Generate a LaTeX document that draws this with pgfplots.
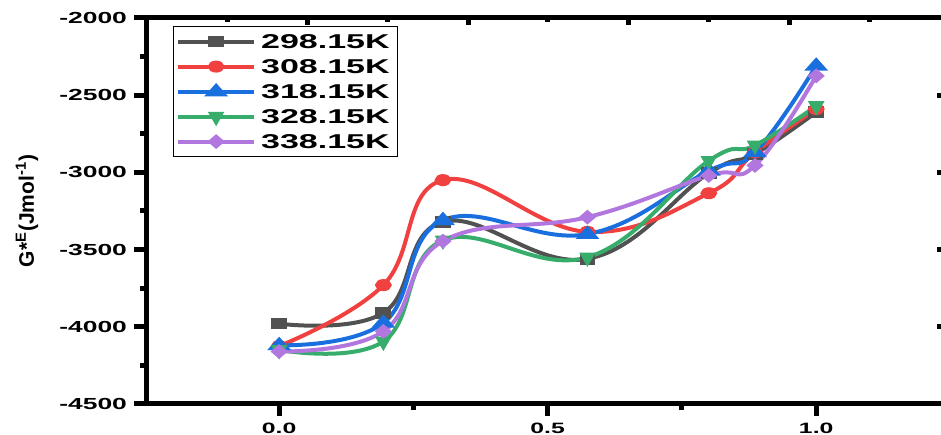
\documentclass[border=0pt]{standalone}
\usepackage{fontspec}
\setmainfont{Liberation Sans}
\usepackage{graphicx}
\usepackage{pgfplots}
\pgfplotsset{compat=1.18}
\definecolor{cA}{HTML}{515151}
\definecolor{cB}{HTML}{F14040}
\definecolor{cC}{HTML}{1A6FDF}
\definecolor{cD}{HTML}{37AD6B}
\definecolor{cE}{HTML}{B177DE}
\pgfplotsset{
  /pgf/number format/assume math mode=true,
  /pgf/number format/1000 sep={},
  ser/.style={color=#1, line width=2pt, smooth, tension=0.7,
    mark options={solid, fill=#1, draw=#1, xscale=1.55}},
}
\begin{document}
\begin{tikzpicture}
\begin{axis}[name=main, scale only axis, width=399pt, height=193pt,
  xmin=-0.248, xmax=1.238, ymin=-4500, ymax=-2000,
  axis line style={line width=2.5pt, black},
  tick align=outside, xtick pos=left, ytick pos=left,
  xtick={0,0.5,1},
  xticklabels={\scalebox{1.65}[1]{0.0},\scalebox{1.65}[1]{0.5},\scalebox{1.65}[1]{1.0}},
  minor xtick={0.25,0.75},
  ytick={-4500,-4000,-3500,-3000,-2500,-2000},
  minor ytick={-4250,-3750,-3250,-2750,-2250},
  yticklabel={\scalebox{1.65}[1]{\pgfmathprintnumber{\tick}}},
  major tick length=6pt, minor tick length=2.8pt,
  tick style={line width=2.5pt, black},
  x tick label style={font=\fontsize{7.5}{9}\selectfont\bfseries},
  y tick label style={font=\fontsize{8}{9}\selectfont\bfseries},
  ylabel={G*\textsuperscript{E}(Jmol\textsuperscript{-1})},
  every axis y label/.style={at={(axis description cs:-0.149,0.5)}, rotate=90, anchor=center,
    font=\fontsize{10.5}{12}\selectfont\bfseries},
  legend style={at={(axis description cs:0.034,0.979)}, anchor=north west,
    draw=black, line width=0.5pt, inner xsep=1.25pt, inner ysep=1.25pt, row sep=0pt,
    font=\fontsize{10}{12}\selectfont\bfseries,
    nodes={inner xsep=2.5pt, inner ysep=3pt, text height=6.5pt, text depth=0pt}},
  legend cell align=left,
  legend image code/.code={\draw[mark repeat=2,mark phase=2,#1] plot coordinates {(0pt,0pt)(19pt,0pt)(38pt,0pt)};},
]
\addplot[ser=cA, mark=square*, mark size=1.9pt] coordinates {
(0,-3980) (0.194,-3910) (0.305,-3320) (0.574,-3560) (0.800,-3005) (0.886,-2880) (1.000,-2610)};
\addlegendentry{\scalebox{1.7}[1]{298.15K}}
\addplot[ser=cB, mark=*, mark size=2pt] coordinates {
(0,-4125) (0.194,-3730) (0.305,-3050) (0.574,-3385) (0.800,-3135) (0.886,-2870) (1.000,-2590)};
\addlegendentry{\scalebox{1.7}[1]{308.15K}}
\addplot[ser=cC, mark=triangle*, mark size=2.8pt] coordinates {
(0,-4120) (0.194,-3975) (0.305,-3310) (0.574,-3400) (0.800,-2990) (0.886,-2870) (1.000,-2310)};
\addlegendentry{\scalebox{1.7}[1]{318.15K}}
\addplot[ser=cD, mark=triangle*, mark size=2.8pt, mark options={rotate=180}] coordinates {
(0,-4150) (0.194,-4095) (0.305,-3440) (0.574,-3550) (0.800,-2925) (0.886,-2825) (1.000,-2570)};
\addlegendentry{\scalebox{1.7}[1]{328.15K}}
\addplot[ser=cE, mark=diamond*, mark size=2.4pt] coordinates {
(0,-4160) (0.194,-4030) (0.305,-3445) (0.574,-3290) (0.800,-3020) (0.886,-2955) (1.000,-2375)};
\addlegendentry{\scalebox{1.7}[1]{338.15K}}
\end{axis}
\begin{axis}[scale only axis, width=399pt, height=193pt,
  xmin=-0.248, xmax=1.238, ymin=-4500, ymax=-2000,
  axis line style={draw=none},
  tick align=inside, xtick pos=right, ytick pos=right,
  xtick={0.052,0.352,0.65,0.95},
  minor xtick={-0.097,0.201,0.499,0.799,1.099},
  ytick={-4000,-3500,-3000,-2500},
  xticklabels={}, yticklabels={},
  major tick length=3.5pt, minor tick length=2pt,
  tick style={line width=2.5pt, black},
]
\end{axis}
\pgfresetboundingbox
\path[use as bounding box] ([xshift=-73pt,yshift=-15.5pt]main.south west) rectangle ([xshift=-1.5pt,yshift=9pt]main.north east);
\end{tikzpicture}
\end{document}
